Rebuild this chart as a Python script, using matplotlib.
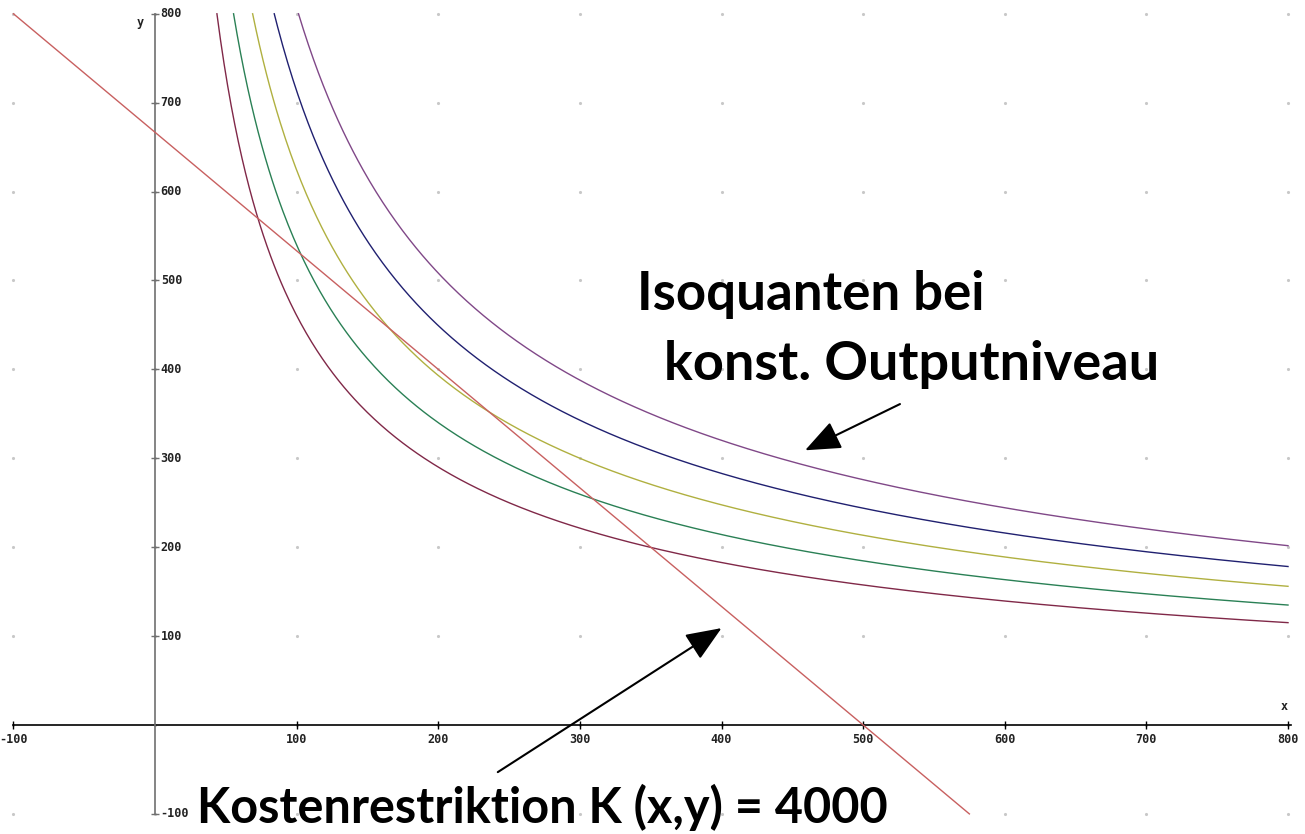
import numpy as np
import matplotlib.pyplot as plt

# Production function x^a * y^(1-a), isoquants at constant output
output_levels = [250, 275, 300, 325, 350]
curve_colors = ['#802848', '#2a8055', '#b0b040', '#202070', '#804888']
exp_x = 0.4

# Cost restriction px*x + py*y = K
price_x = 8
price_y = 6
budget = 4000

tick_values = [-100, 100, 200, 300, 400, 500, 600, 700, 800]
grid_values = list(range(-100, 801, 100))

lo, hi = -100, 800

fig = plt.figure(figsize=(13.05, 8.34), dpi=100)
ax = fig.add_axes([0, 0, 1, 1])
ax.set_xlim(-109.5, 812)
ax.set_ylim(-122.6, 815.5)
ax.axis('off')

# dotted grid
gx, gy = np.meshgrid(grid_values, grid_values)
ax.plot(gx.ravel(), gy.ravel(), ls='none', marker='.', ms=2.5, color='#c8c8c8', zorder=0)

# coordinate axes
ax.plot([lo, hi + 2], [0, 0], color='black', lw=1.2, zorder=1)
ax.plot([0, 0], [lo, hi], color='#707070', lw=1.2, zorder=1)
lab = dict(fontsize=8.5, family='DejaVu Sans Mono', fontweight='bold', color='#222222')
for t in tick_values:
    ax.plot([t], [0], marker='|', ms=6, color='black', mew=1)
    ax.text(t, -9, str(t), ha='center', va='top', **lab)
    ax.plot([0], [t], marker='_', ms=6, color='#707070', mew=1)
    ax.text(4, t, str(t), ha='left', va='center', **lab)
ax.text(-8, 790, 'y', ha='right', va='center', **lab)
ax.text(795, 13, 'x', ha='left', va='bottom', **lab)

# isoquants, clipped at the top of the window
for q, c in zip(output_levels, curve_colors):
    x_start = (q / hi ** (1 - exp_x)) ** (1 / exp_x)
    xs = np.linspace(x_start, hi, 600)
    ys = (q / xs ** exp_x) ** (1 / (1 - exp_x))
    ax.plot(xs, ys, color=c, lw=1.0, zorder=2)

# budget line inside the window
x_a = (budget - price_y * hi) / price_x
x_b = (budget - price_y * lo) / price_x
xs = np.array([max(lo, x_a), min(hi, x_b)])
ax.plot(xs, (budget - price_x * xs) / price_y, color='#c86060', lw=1.0, zorder=2)

# annotations
txt = dict(fontweight='bold', family='Lato', va='baseline')
ax.text(340, 467, 'Isoquanten bei', fontsize=38, **txt)
ax.text(359.5, 388, 'konst. Outputniveau', fontsize=39, **txt)
ax.text(29.7, -110, 'Kostenrestriktion K (x,y) = 4000', fontsize=35, **txt)

arrow = dict(arrowstyle='-|>,head_length=1.1,head_width=0.45', color='black',
             lw=1.5, mutation_scale=20, shrinkA=0, shrinkB=0)
ax.annotate('', xy=(459, 309), xytext=(526, 361), arrowprops=arrow)
ax.annotate('', xy=(400, 109), xytext=(242, -53), arrowprops=arrow)

fig.savefig('out.png', dpi=100)
